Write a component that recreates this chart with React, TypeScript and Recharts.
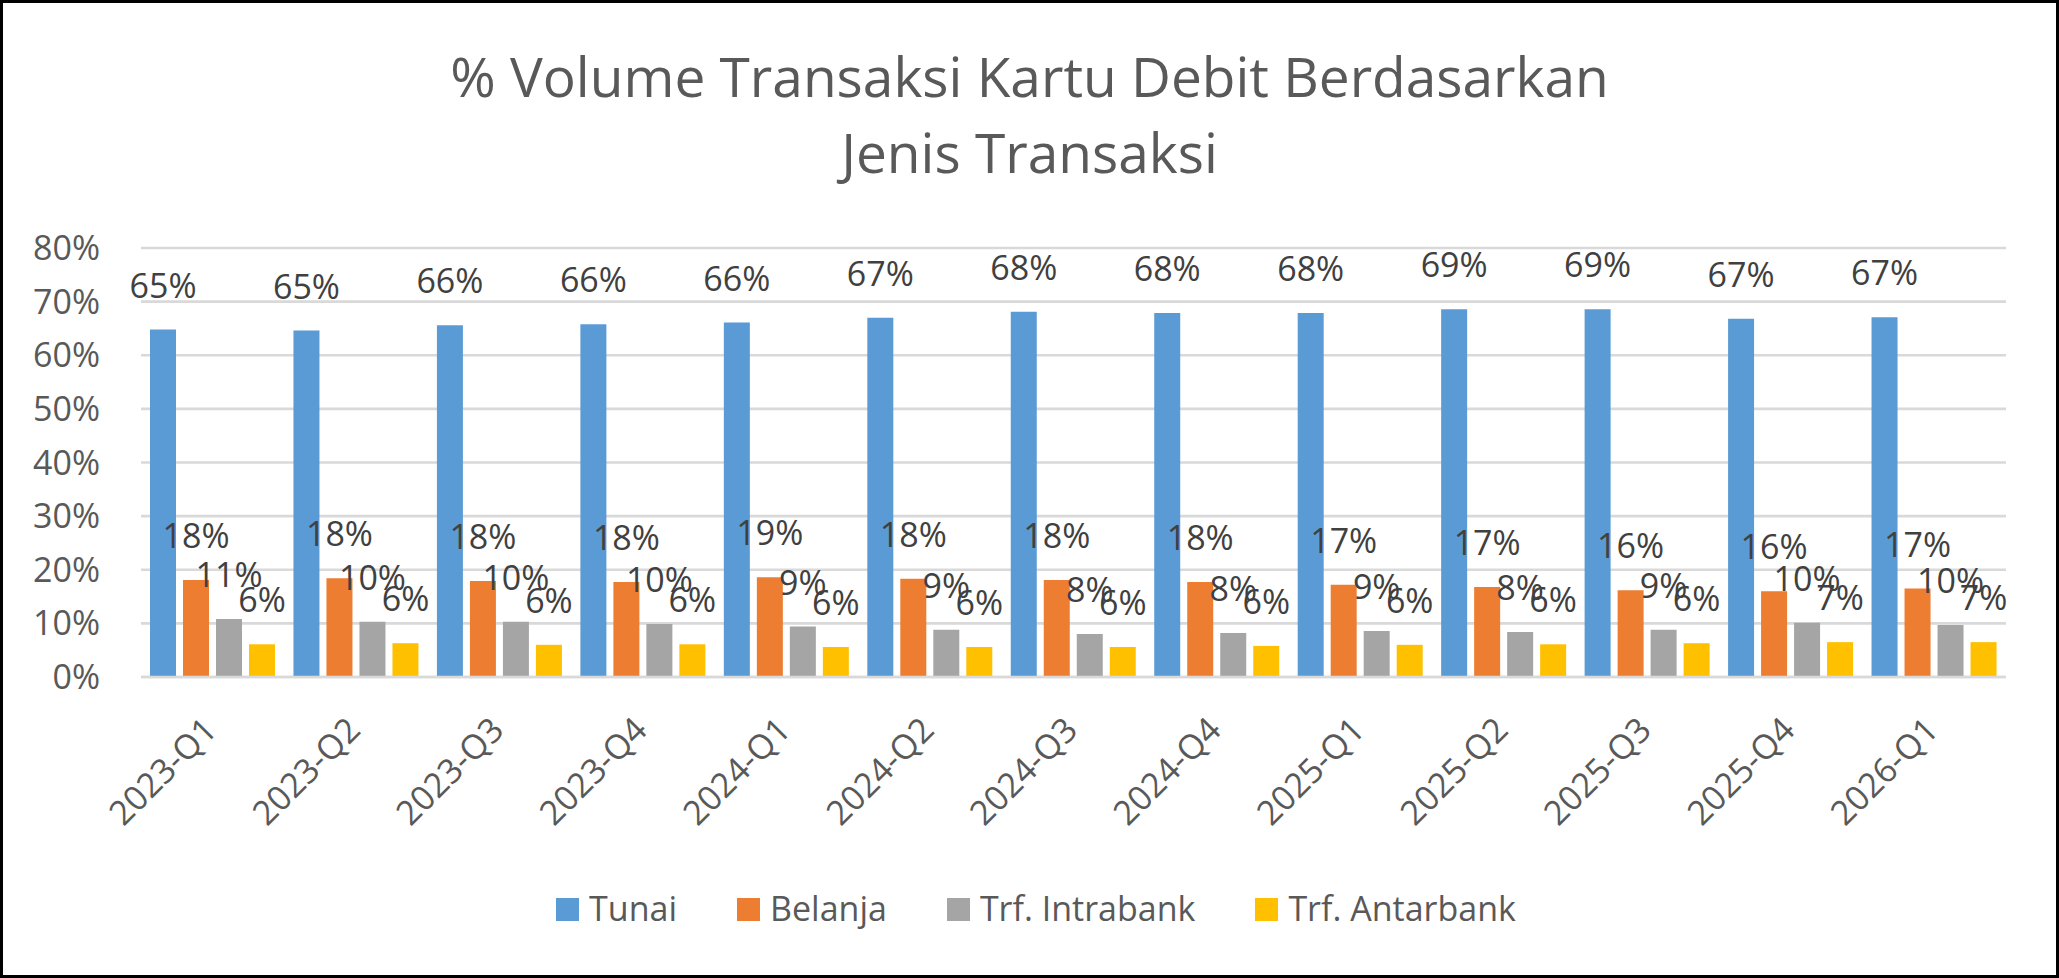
import React from 'react';
import { BarChart, Bar, XAxis, YAxis, CartesianGrid, Legend, LabelList } from 'recharts';

const FONT = '"Open Sans", "Noto Sans", sans-serif';

const titleLines = ['% Volume Transaksi Kartu Debit Berdasarkan', 'Jenis Transaksi'];

const categories = [
  '2023-Q1', '2023-Q2', '2023-Q3', '2023-Q4',
  '2024-Q1', '2024-Q2', '2024-Q3', '2024-Q4',
  '2025-Q1', '2025-Q2', '2025-Q3', '2025-Q4',
  '2026-Q1',
];

const tunai = [64.8, 64.6, 65.6, 65.8, 66.1, 67.0, 68.1, 67.9, 67.9, 68.6, 68.6, 66.8, 67.1];
const belanja = [18.1, 18.4, 17.9, 17.7, 18.6, 18.3, 18.1, 17.7, 17.2, 16.8, 16.2, 16.0, 16.5];
const trfIntrabank = [10.8, 10.3, 10.3, 9.9, 9.4, 8.8, 8.0, 8.2, 8.6, 8.4, 8.8, 10.1, 9.7];
const trfAntarbank = [6.1, 6.3, 6.0, 6.1, 5.6, 5.6, 5.6, 5.8, 6.0, 6.1, 6.3, 6.5, 6.5];

const yTicks = [0, 10, 20, 30, 40, 50, 60, 70, 80];

const seriesKeys = ['tunai', 'belanja', 'intrabank', 'antarbank'];
const seriesNames = ['Tunai', 'Belanja', 'Trf. Intrabank', 'Trf. Antarbank'];
const seriesColors = ['#5B9BD5', '#ED7D31', '#A5A5A5', '#FFC000'];

const data = categories.map((category, i) => ({
  category,
  tunai: tunai[i],
  belanja: belanja[i],
  intrabank: trfIntrabank[i],
  antarbank: trfAntarbank[i],
}));

const renderLabel = (props: any) => {
  const { x, y, width, value } = props;
  return (
    <text
      x={Number(x) + Number(width) / 2}
      y={Number(y) - 32}
      textAnchor="middle"
      fill="#404040"
      fontSize={34}
      fontFamily={FONT}
    >
      {Math.round(Number(value))}%
    </text>
  );
};

const XTick = (props: any) => {
  const { x, y, payload } = props;
  const ax = Number(x) + 6;
  const ay = Number(y) + 49;
  return (
    <text
      x={ax}
      y={ay}
      transform={`rotate(-45 ${ax} ${ay})`}
      textAnchor="end"
      fill="#595959"
      fontSize={34}
      fontFamily={FONT}
    >
      {payload.value}
    </text>
  );
};

const LegendContent = () => (
  <div
    style={{
      display: 'flex',
      justifyContent: 'center',
      paddingLeft: 13,
      height: 40,
      fontFamily: FONT,
      fontSize: 34,
      lineHeight: '40px',
      color: '#595959',
    }}
  >
    {seriesNames.map((name, i) => (
      <div key={name} style={{ display: 'flex', alignItems: 'flex-start', marginRight: i < seriesNames.length - 1 ? 60 : 0 }}>
        <div style={{ width: 23, height: 23, marginTop: 10, marginRight: 10, background: seriesColors[i] }} />
        <span style={{ whiteSpace: 'nowrap' }}>{name}</span>
      </div>
    ))}
  </div>
);

export default function App() {
  return (
    <div style={{ position: 'absolute', left: 0, top: 0, width: 2059, height: 978, background: '#fff', overflow: 'hidden' }}>
      {titleLines.map((line, i) => (
        <div
          key={i}
          style={{
            position: 'absolute',
            left: 0,
            top: 38 + i * 76,
            width: 2059,
            textAlign: 'center',
            fontFamily: FONT,
            fontSize: 55,
            lineHeight: '76px',
            color: '#595959',
            whiteSpace: 'nowrap',
          }}
        >
          {line}
        </div>
      ))}
      <div style={{ position: 'absolute', left: 0, top: 0 }}>
        <BarChart
          width={2059}
          height={978}
          data={data}
          margin={{ top: 248, right: 53, bottom: 81, left: 0 }}
          barCategoryGap={9}
          barGap={7}
        >
          <CartesianGrid vertical={false} stroke="#D9D9D9" strokeWidth={2.7} />
          <XAxis
            dataKey="category"
            height={180}
            tickLine={false}
            tickMargin={0}
            axisLine={{ stroke: '#D9D9D9', strokeWidth: 2.7 }}
            tick={<XTick />}
            interval={0}
          />
          <YAxis
            width={141}
            domain={[0, 80]}
            ticks={yTicks}
            tickFormatter={(v: number) => `${v}%`}
            axisLine={false}
            tickLine={false}
            tickMargin={35}
            tick={{ fill: '#595959', fontSize: 34, fontFamily: FONT }}
          />
          <Legend
            verticalAlign="bottom"
            height={40}
            wrapperStyle={{ top: 888, left: 0, width: 2059 }}
            content={<LegendContent />}
          />
          {seriesKeys.map((key, i) => (
            <Bar key={key} dataKey={key} name={seriesNames[i]} fill={seriesColors[i]} isAnimationActive={false}>
              <LabelList dataKey={key} content={renderLabel} />
            </Bar>
          ))}
        </BarChart>
      </div>
      <div
        style={{
          position: 'absolute',
          left: 0,
          top: 0,
          width: 2059,
          height: 978,
          border: '3px solid #000',
          boxSizing: 'border-box',
          pointerEvents: 'none',
        }}
      />
    </div>
  );
}
